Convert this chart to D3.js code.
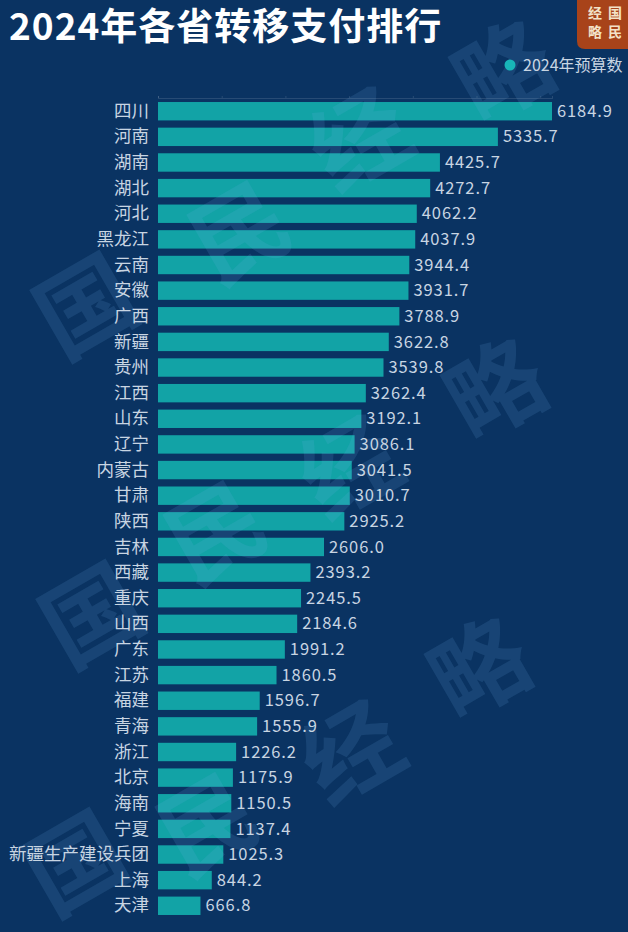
<!DOCTYPE html>
<html>
<head>
<meta charset="utf-8">
<style>
html,body{margin:0;padding:0;background:#0a3362;}
text{font-family:"Noto Sans CJK SC","Noto Sans",sans-serif;}
</style>
<script src="https://cdn.jsdelivr.net/npm/d3@7"></script>
</head>
<body>
<div id="chart"></div>
<script>
var provinces = ['四川','河南','湖南','湖北','河北','黑龙江','云南','安徽','广西','新疆','贵州','江西','山东','辽宁','内蒙古','甘肃','陕西','吉林','西藏','重庆','山西','广东','江苏','福建','青海','浙江','北京','海南','宁夏','新疆生产建设兵团','上海','天津'];
var budget2024 = [6184.9,5335.7,4425.7,4272.7,4062.2,4037.9,3944.4,3931.7,3788.9,3622.8,3539.8,3262.4,3192.1,3086.1,3041.5,3010.7,2925.2,2606.0,2393.2,2245.5,2184.6,1991.2,1860.5,1596.7,1555.9,1226.2,1175.9,1150.5,1137.4,1025.3,844.2,666.8];
var valueTicks = [0,1000,2000,3000,4000,5000,6000];
var titleText = '2024年各省转移支付排行';
var legendText = '2024年预算数';
var markChars = ['国','民','经','略'];

var width = 628, height = 932;

var svg = d3.select('#chart').append('svg')
	.attr('width', width)
	.attr('height', height)
	.style('display', 'block');

svg.append('rect').attr('width', width).attr('height', height).attr('fill', '#0a3362');

var x = d3.scaleLinear().domain([0, 6184.9]).range([158, 552]);
var y = d3.scaleBand().domain(provinces).range([98.4, 918.6]).paddingInner(0.282).paddingOuter(0.141);

// faint top axis, no labels
var topAxis = svg.append('g').attr('transform', 'translate(0,98)')
	.call(d3.axisTop(x).tickValues(valueTicks).tickSize(2).tickFormat(''));
topAxis.selectAll('line,path').attr('stroke', '#ffffff').attr('stroke-opacity', 0.12);

svg.selectAll('.bar').data(budget2024).enter().append('rect')
	.attr('class', 'bar')
	.attr('x', x(0))
	.attr('y', function(d, i){ return y(provinces[i]); })
	.attr('width', function(d){ return x(d) - x(0); })
	.attr('height', y.bandwidth())
	.attr('fill', '#12a3a6');

// watermark sits over the bars, each char placed by its center
var markRows = [
	[[86,307],[240,233],[360,140],[504,72]],
	[[92,616],[216,533],[350,468],[496,390]],
	[[76,864],[208,825],[352,753],[480,669]]
];
markRows.forEach(function(row){
	svg.append('g').selectAll('text').data(markChars).enter().append('text')
		.attr('transform', function(d, i){ return 'translate(' + row[i][0] + ',' + row[i][1] + ') rotate(-30)'; })
		.attr('text-anchor', 'middle')
		.attr('dy', '0.36em')
		.attr('font-size', 96)
		.attr('font-weight', 700)
		.attr('fill', '#6fb0e8')
		.attr('fill-opacity', 0.14)
		.text(function(d){ return d; });
});

var axis = d3.axisLeft(y).tickSize(0).tickPadding(9);
var axisG = svg.append('g').attr('transform', 'translate(158,0)').call(axis);
axisG.select('.domain').remove();
axisG.selectAll('text')
	.attr('font-size', 17.5)
	.attr('font-family', '"Noto Sans CJK SC",sans-serif')
	.attr('fill', '#c8d5e2');

svg.selectAll('.val').data(budget2024).enter().append('text')
	.attr('class', 'val')
	.attr('x', function(d){ return x(d) + 5; })
	.attr('y', function(d, i){ return y(provinces[i]) + y.bandwidth() / 2; })
	.attr('dy', '0.34em')
	.attr('font-size', 16.5)
	.attr('letter-spacing', 0.9)
	.attr('fill', '#c8d5e2')
	.text(function(d){ return d.toFixed(1); });

// title
svg.append('text')
	.attr('x', 9).attr('y', 40)
	.attr('font-size', 37)
	.attr('font-weight', 700)
	.attr('letter-spacing', 1)
	.attr('fill', '#ffffff')
	.text(titleText);

// legend
svg.append('circle').attr('cx', 510).attr('cy', 65).attr('r', 5.5).attr('fill', '#18b5b8');
svg.append('text')
	.attr('x', 523).attr('y', 70.5)
	.attr('font-size', 16)
	.attr('fill', '#c8d5e2')
	.text(legendText);

// logo
svg.append('path')
	.attr('d', 'M577,0H628V49H585Q577,49 577,41Z')
	.attr('fill', '#a8431a');
var logoPos = [[615,18],[615,37],[595,18],[595,37]];
svg.selectAll('.logo').data(markChars).enter().append('text')
	.attr('class', 'logo')
	.attr('x', function(d, i){ return logoPos[i][0]; })
	.attr('y', function(d, i){ return logoPos[i][1]; })
	.attr('text-anchor', 'middle')
	.attr('font-size', 14)
	.attr('font-weight', 700)
	.attr('fill', '#f3e2c8')
	.text(function(d){ return d; });
</script>
</body>
</html>
